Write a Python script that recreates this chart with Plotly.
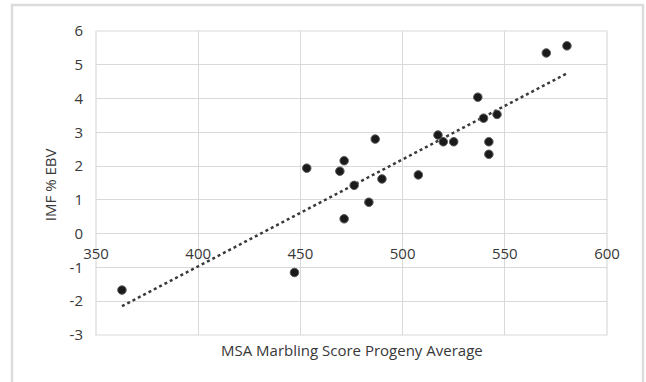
import numpy as np
import plotly.graph_objects as go

# Data
marbling = [362.7, 447.1, 453.1, 469.3, 471.4, 471.4, 476.3, 483.5, 486.6, 489.9,
            507.7, 517.3, 519.9, 525.0, 536.8, 539.6, 542.2, 542.2, 546.2, 570.3, 580.4]
imf_ebv = [-1.67, -1.15, 1.94, 1.85, 2.16, 0.44, 1.43, 0.93, 2.80, 1.62,
           1.74, 2.92, 2.72, 2.72, 4.04, 3.42, 2.72, 2.35, 3.53, 5.35, 5.56]

x_ticks = [350, 400, 450, 500, 550, 600]
y_ticks = [-3, -2, -1, 0, 1, 2, 3, 4, 5, 6]

x_title = "MSA Marbling Score Progeny Average"
y_title = "IMF % EBV"

# Linear trendline (least squares) over the data range
slope, intercept = np.polyfit(marbling, imf_ebv, 1)
trend_x = [min(marbling), max(marbling)]
trend_y = [slope * v + intercept for v in trend_x]

font_family = "Open Sans, Lato, sans-serif"
text_color = "#383838"
grid_color = "#d9d9d9"

fig = go.Figure()
fig.add_trace(go.Scatter(
    x=trend_x, y=trend_y, mode="lines",
    line=dict(color="#3a3a3a", width=2.5, dash="dot"),
    hoverinfo="skip", showlegend=False,
))
fig.add_trace(go.Scatter(
    x=marbling, y=imf_ebv, mode="markers",
    marker=dict(size=8.5, color="#1a1a1a", line=dict(color="#595959", width=1)),
    showlegend=False,
))

y_min, y_max = y_ticks[0], y_ticks[-1]
zero_frac = (0 - y_min) / (y_max - y_min)

fig.update_layout(
    width=646, height=382,
    margin=dict(l=96, r=39, t=31, b=47),
    paper_bgcolor="white", plot_bgcolor="white",
    font=dict(family=font_family, size=15, color=text_color),
    xaxis=dict(
        range=[x_ticks[0], x_ticks[-1]], tickvals=x_ticks,
        ticktext=[str(v) for v in x_ticks],
        showgrid=True, gridcolor=grid_color, gridwidth=1.2,
        zeroline=False, showline=False, ticks="",
        anchor="free", position=zero_frac,
        ticklabelstandoff=9,
        tickfont=dict(size=15, color=text_color),
    ),
    yaxis=dict(
        range=[y_min, y_max], tickvals=y_ticks,
        ticktext=[str(v) for v in y_ticks],
        showgrid=True, gridcolor=grid_color, gridwidth=1.2,
        zeroline=False, showline=False, ticks="",
        ticklabelstandoff=12,
        tickfont=dict(size=15, color=text_color),
    ),
    shapes=[
        # plot area border
        dict(type="rect", xref="paper", yref="paper", x0=0, x1=1, y0=0, y1=1,
             line=dict(color=grid_color, width=1.2), layer="below"),
        # chart frame
        dict(type="rect", xref="paper", yref="paper",
             x0=-0.1644, x1=1.0705, y0=-0.18, y1=1.0855,
             line=dict(color="#dcdcdc", width=2.5)),
    ],
    annotations=[
        dict(text=x_title, xref="paper", yref="paper", x=0.5, y=-0.05,
             xanchor="center", yanchor="middle", showarrow=False,
             font=dict(size=15, color=text_color)),
        dict(text=y_title, xref="paper", yref="paper", x=-0.09, y=0.493,
             xanchor="center", yanchor="middle", textangle=-90, showarrow=False,
             font=dict(size=15, color=text_color)),
    ],
)

fig.write_html("out.html", config={"displayModeBar": False},
               post_script="document.body.style.margin='0';document.body.style.overflow='hidden';")
